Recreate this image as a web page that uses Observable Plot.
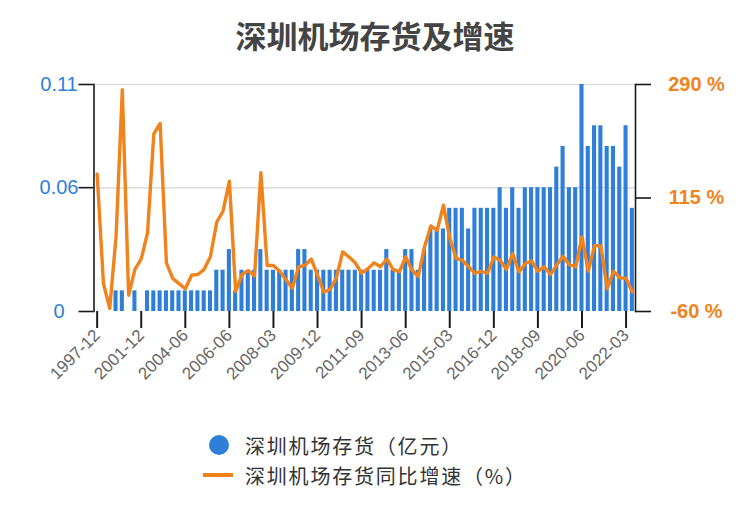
<!DOCTYPE html>
<html>
<head>
<meta charset="utf-8">
<script src="https://cdn.jsdelivr.net/npm/d3@7"></script>
<script src="https://cdn.jsdelivr.net/npm/@observablehq/plot@0.6"></script>
<style>
  body { margin: 0; background: #fff; }
  #wrap { position: relative; width: 750px; height: 527px; overflow: hidden; }
  #title { position: absolute; left: 0; top: 14px; width: 750px; text-align: center;
           font-family: "Noto Sans CJK SC", sans-serif; font-weight: bold; font-size: 31px;
           line-height: 42px; color: #444; }
  #chart { position: absolute; left: 0; top: 60px; }
  .leg { position: absolute; left: 245px; font-family: "Noto Sans CJK SC", sans-serif;
         font-size: 20px; line-height: 29px; letter-spacing: 1.8px; color: #333; white-space: nowrap; }
  .dot { position: absolute; width: 20px; height: 20px; border-radius: 50%; }
  .dash { position: absolute; height: 4px; }
</style>
</head>
<body>
<div id="wrap">
  <div id="title"></div>
  <div id="chart"></div>
  <div class="dot" id="dot1" style="left:209px;top:435px;"></div>
  <div class="leg" id="leg1" style="top:431px;"></div>
  <div class="dash" id="dash2" style="left:203px;top:473px;width:30px;"></div>
  <div class="leg" id="leg2" style="top:461px;"></div>
</div>
<script>
// ---------- data ----------
const titleText = "深圳机场存货及增速";
const seriesNames = ["深圳机场存货（亿元）", "深圳机场存货同比增速（%）"];

const dates = [
  "1997-12","1998-12","1999-06","1999-12","2000-06","2000-12","2001-06","2001-12",
  "2002-06","2002-12","2003-06","2003-09","2003-12","2004-03","2004-06",
  "2004-09","2004-12","2005-06","2005-09","2005-12","2006-03","2006-06",
  "2006-09","2006-12",
  "2007-03","2007-06","2007-09","2007-12",
  "2008-03","2008-06","2008-09","2008-12",
  "2009-03","2009-06","2009-09","2009-12",
  "2010-03","2010-06","2010-09","2010-12",
  "2011-03","2011-06","2011-09","2011-12",
  "2012-03","2012-06","2012-09","2012-12",
  "2013-03","2013-06","2013-09","2013-12",
  "2014-03","2014-06","2014-09","2014-12",
  "2015-03","2015-06","2015-09","2015-12",
  "2016-03","2016-06","2016-09","2016-12",
  "2017-03","2017-06","2017-09","2017-12",
  "2018-03","2018-06","2018-09","2018-12",
  "2019-03","2019-06","2019-09","2019-12",
  "2020-03","2020-06","2020-09","2020-12",
  "2021-03","2021-06","2021-09","2021-12",
  "2022-03","2022-06"
];

const inventory = [
  0, 0, 0, 0.01, 0.01, 0, 0.01, 0,
  0.01, 0.01, 0.01, 0.01, 0.01, 0.01, 0.01, 0.01, 0.01, 0.01, 0.01,
  0.02, 0.02, 0.03, 0.01, 0.02, 0.02, 0.02, 0.03, 0.02,
  0.02, 0.02, 0.02, 0.02,
  0.03, 0.03,
  0.02, 0.02, 0.02, 0.02, 0.02, 0.02, 0.02, 0.02, 0.02, 0.02, 0.02, 0.02,
  0.03, 0.02, 0.02, 0.03, 0.03, 0.02, 0.03,
  0.04, 0.04, 0.04,
  0.05, 0.05, 0.05,
  0.04,
  0.05, 0.05, 0.05, 0.05,
  0.06, 0.05, 0.06, 0.05,
  0.06, 0.06, 0.06, 0.06, 0.06,
  0.07, 0.08, 0.06, 0.06, 0.11, 0.08, 0.09, 0.09, 0.08, 0.08, 0.07, 0.09, 0.05
];

const growth = [
  152, -17, -55, 55, 282, -35, 5, 21,
  61, 214, 230, 15, -9, -17, -25, -4, -3, 5, 25,
  78, 95, 141, -29, -3, 3, -5, 154, 11,
  11, 2, -11, -24,
  9, 11,
  21, -4, -30, -26, -8, 32, 24, 15, -1, 6, 15, 9,
  21, 5, 1, 24, 4, -6, 40,
  72, 65, 104,
  53, 22, 19,
  9,
  -1, 2, -1, 24,
  19, 5, 29, 1,
  14, 18, 2, 9, -3,
  12, 25, 12, 9, 55, 2, 42, 41, -25, 2, -8, -9, -30
];

const xTickLabels = ["1997-12","2001-12","2004-06","2006-06","2008-03","2009-12",
  "2011-09","2013-06","2015-03","2016-12","2018-09","2020-06","2022-03"];
const leftTicks = [0, 0.06, 0.11];
const rightTicks = [-60, 115, 290];

// ---------- styles ----------
const blue = "#2f7fd9";
const orange = "#f0831c";
const axisColor = "#1a1a1a";

document.getElementById("title").textContent = titleText;
document.getElementById("leg1").textContent = seriesNames[0];
document.getElementById("leg2").textContent = seriesNames[1];
document.getElementById("dot1").style.background = blue;
document.getElementById("dash2").style.background = orange;

const data = dates.map((d, i) => ({date: d, inv: inventory[i], growth: growth[i]}));

const leftMax = leftTicks[leftTicks.length - 1];
const rMin = rightTicks[0], rMax = rightTicks[rightTicks.length - 1];
const toLeft = v => (v - rMin) / (rMax - rMin) * leftMax;
const fromLeft = y => rMin + y / leftMax * (rMax - rMin);

const chart = Plot.plot({
  width: 750,
  height: 340,
  marginLeft: 93.5,
  marginRight: 115,
  marginTop: 24,
  marginBottom: 89,
  style: {fontFamily: "'Liberation Sans', 'Noto Sans CJK SC', sans-serif", background: "transparent"},
  x: {type: "band", domain: dates, paddingInner: 0.35, paddingOuter: 0.175, round: false},
  y: {domain: [0, leftMax]},
  marks: [
    Plot.gridY(leftTicks.filter(d => d > 0), {stroke: "#dcdcdc", strokeOpacity: 1, strokeWidth: 1.5}),
    Plot.barY(data.filter(d => d.inv > 0), {x: "date", y: "inv", fill: blue}),
    Plot.line(data, {x: "date", y: d => toLeft(d.growth), stroke: orange, strokeWidth: 3.4,
                     strokeLinejoin: "round", strokeLinecap: "round"}),
    Plot.frame({anchor: "left", stroke: axisColor, strokeWidth: 1.6}),
    Plot.frame({anchor: "right", stroke: axisColor, strokeWidth: 1.6}),
    Plot.axisY({anchor: "left", ticks: leftTicks, tickSize: 15, tickPadding: 20,
                textAnchor: "middle", fontSize: 20, fill: blue, stroke: axisColor, strokeWidth: 1.6,
                tickFormat: d => String(d), label: null}),
    Plot.axisY({anchor: "right", ticks: rightTicks.map(toLeft), tickSize: 15, tickPadding: 46,
                textAnchor: "middle", fontSize: 20, fontWeight: "bold", fill: orange,
                stroke: axisColor, strokeWidth: 1.6,
                tickFormat: d => `${Math.round(fromLeft(d))} %`, label: null}),
    Plot.axisX({ticks: xTickLabels, tickSize: 17, tickPadding: 4, tickRotate: -45, fontSize: 17,
                fill: "#666", stroke: axisColor, strokeWidth: 2, label: null})
  ]
});
document.getElementById("chart").appendChild(chart);
</script>
</body>
</html>
